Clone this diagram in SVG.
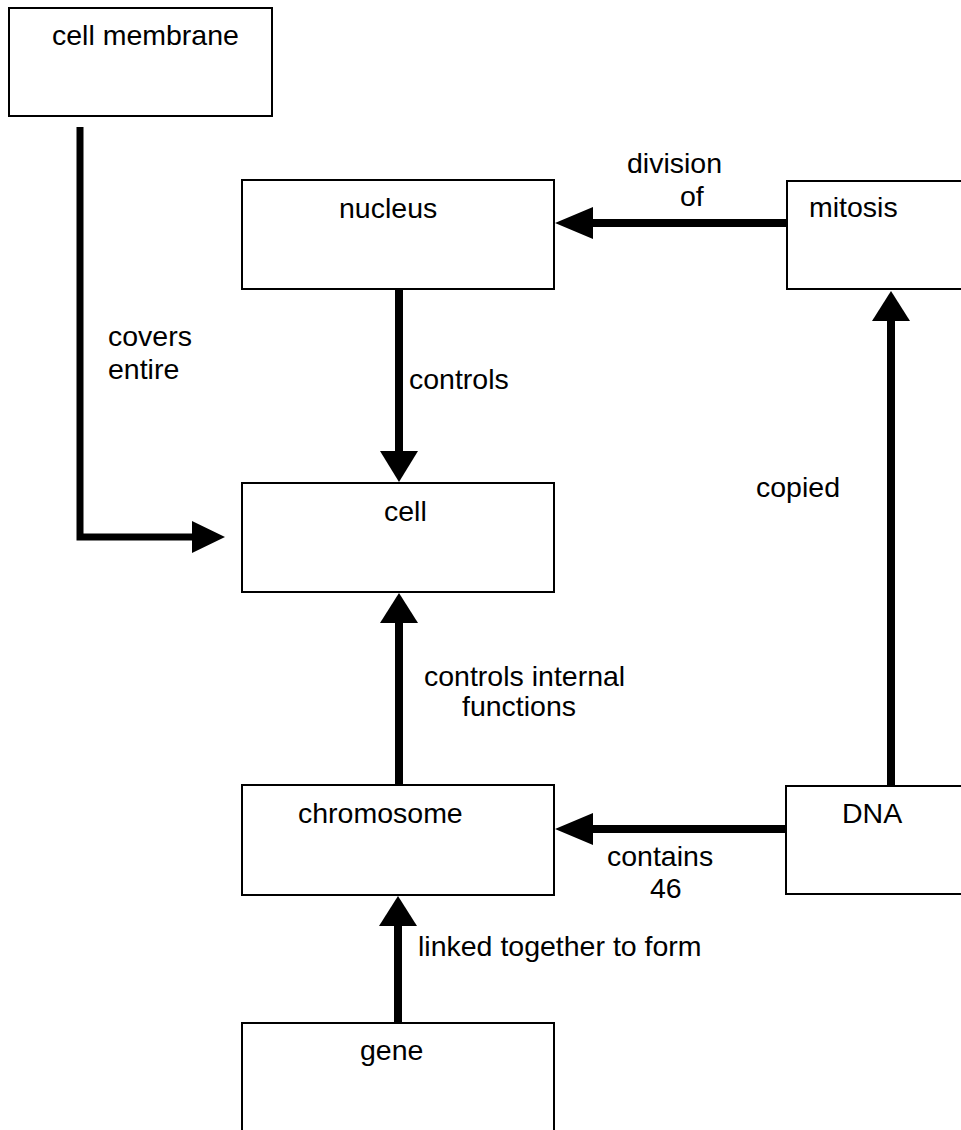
<svg xmlns="http://www.w3.org/2000/svg" width="961" height="1130" viewBox="0 0 961 1130">
<style>
.box{fill:#fff;stroke:#000;stroke-width:2}
.t{font-family:"Liberation Sans",Arial,sans-serif;font-size:28.5px;fill:#000}
.ln{fill:none;stroke:#000;stroke-width:8}
.hd{fill:#000;stroke:none}
</style>
<rect width="961" height="1130" fill="#fff"/>
<g id="cell-membrane"><rect class="box" x="9" y="8" width="263" height="108"/><text class="t" x="52" y="45">cell membrane</text></g>
<g id="nucleus"><rect class="box" x="242" y="180" width="312" height="109"/><text class="t" x="339" y="218">nucleus</text></g>
<g id="mitosis"><rect class="box" x="787" y="181" width="190" height="108"/><text class="t" x="809" y="217">mitosis</text></g>
<g id="cell"><rect class="box" x="242" y="483" width="312" height="109"/><text class="t" x="384" y="521">cell</text></g>
<g id="chromosome"><rect class="box" x="242" y="785" width="312" height="110"/><text class="t" x="298" y="823">chromosome</text></g>
<g id="dna"><rect class="box" x="786" y="786" width="190" height="108"/><text class="t" x="842" y="823">DNA</text></g>
<g id="gene"><rect class="box" x="242" y="1023" width="312" height="130"/><text class="t" x="360" y="1060">gene</text></g>
<g id="connectors">
<polyline class="ln" style="stroke-width:7" points="80,127 80,537 194,537"/>
<polygon class="hd" points="192,521 225,537 192,553"/>
<line class="ln" x1="787" y1="223" x2="591" y2="223"/>
<polygon class="hd" points="593,207 555,223 593,239"/>
<line class="ln" x1="399" y1="290" x2="399" y2="453"/>
<polygon class="hd" points="380,451 399,482 418,451"/>
<line class="ln" x1="399" y1="785" x2="399" y2="621"/>
<polygon class="hd" points="380,623 399,593 418,623"/>
<line class="ln" x1="786" y1="829" x2="591" y2="829"/>
<polygon class="hd" points="593,813 555,829 593,845"/>
<line class="ln" x1="891" y1="786" x2="891" y2="319"/>
<polygon class="hd" points="872,321 891,291 910,321"/>
<line class="ln" x1="398" y1="1023" x2="398" y2="924"/>
<polygon class="hd" points="379,926 398,896 417,926"/>
</g>
<g id="labels">
<text class="t" x="108" y="346">covers</text>
<text class="t" x="108" y="379">entire</text>
<text class="t" x="627" y="173">division</text>
<text class="t" x="680" y="206">of</text>
<text class="t" x="409" y="389">controls</text>
<text class="t" x="424" y="686">controls internal</text>
<text class="t" x="462" y="716">functions</text>
<text class="t" x="756" y="497">copied</text>
<text class="t" x="607" y="866">contains</text>
<text class="t" x="650" y="898">46</text>
<text class="t" x="418" y="956">linked together to form</text>
</g>
</svg>
